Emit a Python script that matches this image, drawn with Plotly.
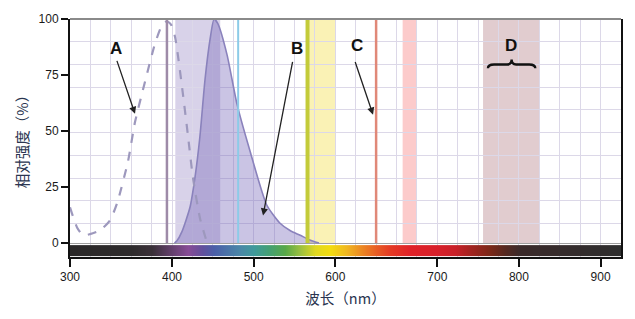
import numpy as np
import plotly.graph_objects as go

# ---- axis scale of the original figure (non-uniform wavelength scale) ----
SCALE_NM = [300, 400, 500, 600, 700, 800, 900, 925]
SCALE_POS = [0, 5, 9, 13, 18, 22, 26, 27]
TICK_NM = [300, 400, 500, 600, 700, 800, 900]
TICK_TEXT = ["300", "400", "500", "600", "700", "800", "900"]
Y_TICKS = [0, 25, 50, 75, 100]

# ---- curve A (dashed) ----
A_NM = [300, 306.9, 312.7, 319.6, 329.4, 339, 346, 356.9, 363.7, 373.5,
        383.3, 390, 395, 399, 403.7, 413.5, 419.5, 425.7, 434.3, 443]
A_VAL = [16, 7, 3.5, 4, 5.7, 10, 17.6, 36.6, 54, 72,
         89, 97, 99, 97.5, 92, 66, 48, 29, 11, 0]

# ---- curve B (filled) ----
B_NM = [403, 406, 412, 422, 428, 434, 440.4, 446.6, 451.5, 456,
        467.4, 479.6, 495.6, 516, 532, 545, 557, 568, 580]
B_VAL = [0, 1, 5, 16, 29, 47, 73, 91, 100, 98,
         84, 62, 41, 17, 9, 5.5, 3.5, 1.5, 0]

# ---- vertical lines ----
LINE_NM = [395, 481, 566, 640]
LINE_COLOR = ["#9e8ba8", "#8ccbe8", "#c3cb3a", "#e08878"]
LINE_WIDTH = [2.5, 2, 4, 2.5]

# ---- bands ----
BAND_START = [404, 568, 666, 756]
BAND_END = [459, 600, 680, 825]
BAND_COLOR = ["rgba(110,90,175,0.27)", "rgba(245,232,120,0.55)",
              "rgba(250,160,160,0.55)", "rgba(175,120,130,0.38)"]

# ---- spectrum bar colours ----
SPEC_NM = [300, 360, 380, 400, 420, 437, 452, 482, 500, 520, 538, 557, 575,
           594, 610, 624, 639, 654, 673, 700, 722, 740, 765, 783, 801, 925]
SPEC_COLOR = ["#2a2828", "#2e2b2c", "#3a3038", "#65406e", "#874c96", "#62509c",
              "#4a5fa8", "#4a86a8", "#3f9a9a", "#45a070", "#58a848", "#9cc040",
              "#e0d820", "#f2dc10", "#f0b820", "#ec8c22", "#e86024", "#e43a24",
              "#e02228", "#d8202a", "#c82028", "#a42420", "#7a2818", "#552820",
              "#3a2a2a", "#2e2e2e"]

# ---- labels ----
LABELS = ["A", "B", "C", "D"]
LABEL_NM = [345, 553, 621, 790.5]
LABEL_Y = [87, 87, 88, 88]
ARROW_TAIL_NM = [345.5, 548, 619]
ARROW_TAIL_Y = [82, 81.5, 81.5]
ARROW_TIP_NM = [363.7, 511.5, 637]
ARROW_TIP_Y = [57.7, 12.3, 57.3]
BRACE_NM = [762, 820]


def warp(nm):
    return np.interp(nm, SCALE_NM, SCALE_POS)


fig = go.Figure()

# spectrum bar
n = len(SPEC_NM)
cs = [[i / (n - 1), c] for i, c in enumerate(SPEC_COLOR)]
fig.add_trace(go.Heatmap(
    x=warp(SPEC_NM), y=[-5.9, -3.4, -0.9],
    z=[list(range(n)), list(range(n))],
    colorscale=cs, zmin=0, zmax=n - 1, zsmooth="best",
    showscale=False, hoverinfo="skip"))

# curve B
fig.add_trace(go.Scatter(
    x=warp(B_NM), y=B_VAL, mode="lines", fill="tozeroy",
    fillcolor="rgba(115,100,185,0.38)",
    line=dict(color="#8a82bc", width=1.6, shape="spline", smoothing=0.6),
    hoverinfo="skip", showlegend=False))

# curve A
fig.add_trace(go.Scatter(
    x=warp(A_NM), y=A_VAL, mode="lines",
    line=dict(color="#9d98bd", width=2.2, dash="dash", shape="spline", smoothing=0.6),
    hoverinfo="skip", showlegend=False))

shapes = []
for s, e, c in zip(BAND_START, BAND_END, BAND_COLOR):
    shapes.append(dict(type="rect", xref="x", yref="y", x0=warp(s), x1=warp(e),
                       y0=0, y1=100, fillcolor=c, line=dict(width=0), layer="below"))
for v, c, w in zip(LINE_NM, LINE_COLOR, LINE_WIDTH):
    shapes.append(dict(type="line", xref="x", yref="y", x0=warp(v), x1=warp(v),
                       y0=0, y1=100, line=dict(color=c, width=w), layer="above"))

# top frame line (grey)
shapes.append(dict(type="line", xref="paper", yref="paper", x0=0, x1=1, y0=1, y1=1,
                   line=dict(color="#8a8a8a", width=2), layer="above"))

# brace for D
bx0, bx1 = warp(BRACE_NM[0]), warp(BRACE_NM[1])
bxm = (bx0 + bx1) / 2
yb, ye, yp = 79.7, 78.0, 81.9
path = (f"M {bx0},{ye} Q {bx0},{yb} {bx0+0.3},{yb} L {bxm-0.22},{yb} "
        f"Q {bxm},{yb} {bxm},{yp} Q {bxm},{yb} {bxm+0.22},{yb} "
        f"L {bx1-0.3},{yb} Q {bx1},{yb} {bx1},{ye}")
shapes.append(dict(type="path", xref="x", yref="y", path=path,
                   line=dict(color="#111", width=2.4), layer="above"))

annotations = []
for t, xn, yv in zip(LABELS, LABEL_NM, LABEL_Y):
    annotations.append(dict(text=f"<b>{t}</b>", x=warp(xn), y=yv, xref="x", yref="y",
                            showarrow=False,
                            font=dict(family="Liberation Sans, Arial", size=17, color="#111")))
for tn, ty, hn, hy in zip(ARROW_TAIL_NM, ARROW_TAIL_Y, ARROW_TIP_NM, ARROW_TIP_Y):
    annotations.append(dict(text="", x=warp(hn), y=hy, ax=warp(tn), ay=ty,
                            xref="x", yref="y", axref="x", ayref="y",
                            showarrow=True, arrowhead=2, arrowsize=1.1, arrowwidth=1.3,
                            arrowcolor="#222", standoff=0, startstandoff=0))

tickfont = dict(family="Liberation Sans, Arial", size=12, color="#1a1a1a")
titlefont = dict(family="Noto Sans CJK SC", size=14.5, color="#2a3550")
gridc = "#dcd8e8"

fig.update_layout(
    width=635, height=319,
    margin=dict(l=70, r=14, t=16, b=62),
    paper_bgcolor="white", plot_bgcolor="white",
    showlegend=False,
    shapes=shapes, annotations=annotations,
    xaxis=dict(range=[0, 27], tickmode="array", tickvals=warp(TICK_NM), ticktext=TICK_TEXT,
               showgrid=True, gridcolor=gridc, gridwidth=1.3,
               minor=dict(tickmode="linear", tick0=0, dtick=1, showgrid=True,
                          gridcolor=gridc, gridwidth=1.3, ticks=""),
               zeroline=False, showline=True, linecolor="#111", linewidth=2,
               ticks="outside", ticklen=8, tickwidth=1.5, tickcolor="#111",
               tickfont=tickfont,
               title=dict(text="波长（nm）", font=titlefont, standoff=10)),
    yaxis=dict(range=[-6.2, 100], tickmode="array", tickvals=Y_TICKS,
               showgrid=False,
               minor=dict(tickmode="linear", tick0=100, dtick=10.15, showgrid=True,
                          gridcolor=gridc, gridwidth=1.3, ticks=""),
               zeroline=True, zerolinecolor="#a0a0a0", zerolinewidth=1,
               showline=True, linecolor="#111", linewidth=2, mirror=True,
               ticks="outside", ticklen=7, tickwidth=1.5, tickcolor="#111",
               tickfont=tickfont,
               title=dict(text="相对强度（%）", font=titlefont, standoff=6)),
)

fig.write_html("out.html")
